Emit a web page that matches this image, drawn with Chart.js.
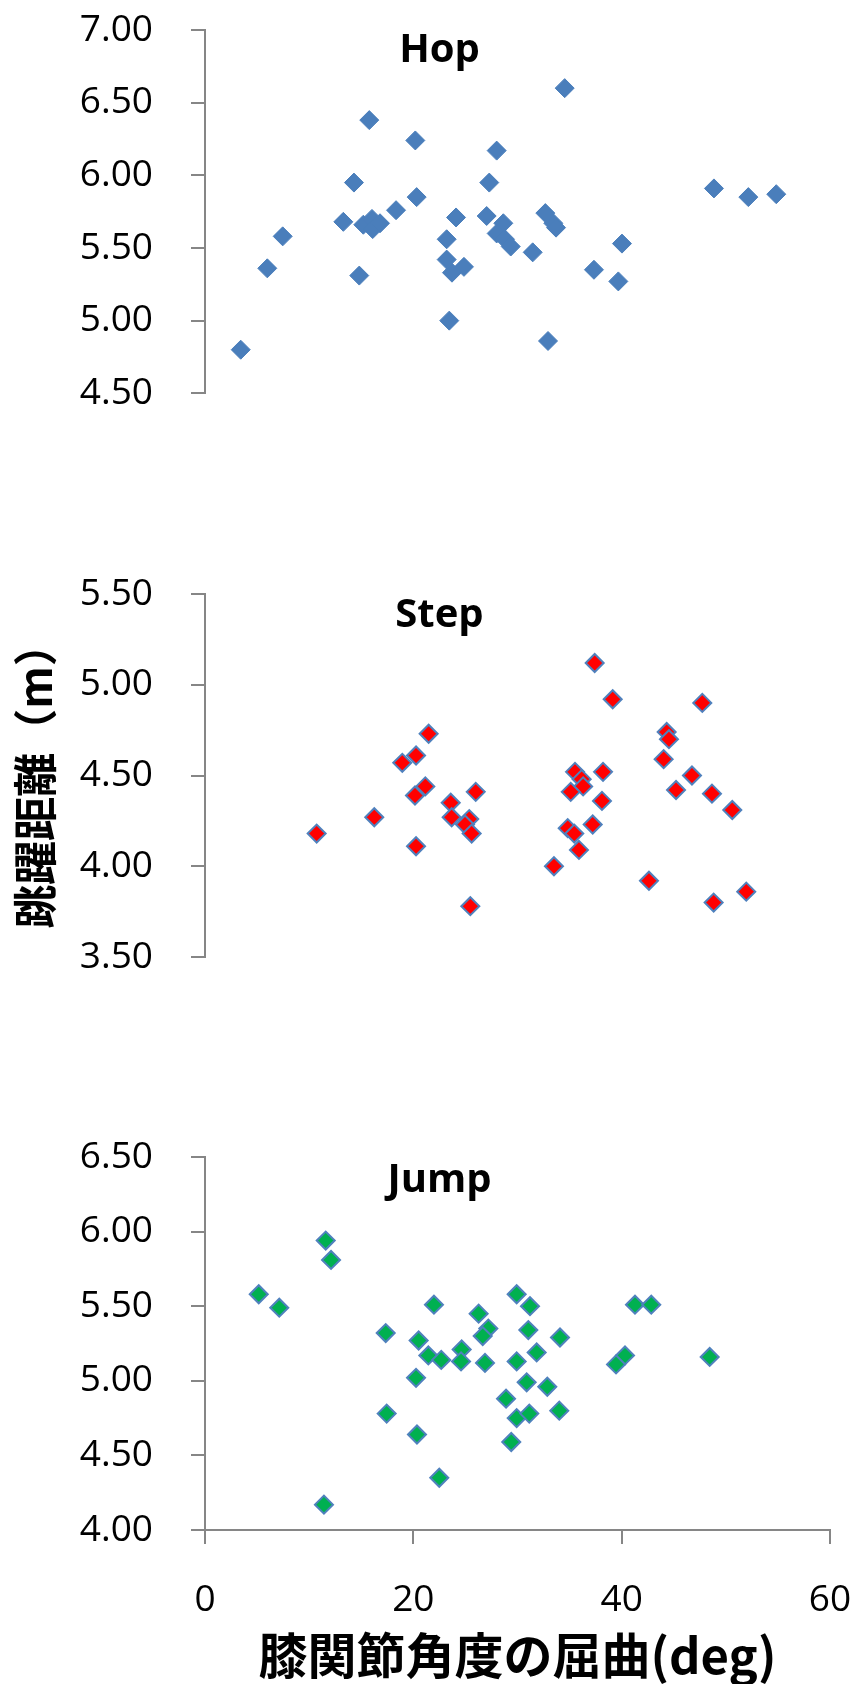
<!DOCTYPE html>
<html><head><meta charset="utf-8">
<script src="https://cdn.jsdelivr.net/npm/chart.js@4.4.1/dist/chart.umd.min.js"></script>
<style>
html,body{margin:0;padding:0;background:#fff;overflow:hidden;width:859px;height:1684px;}
.panel{position:absolute;left:0;}
</style></head><body>
<div class="panel" style="top:0"><canvas id="hop" width="880" height="440"></canvas></div>
<div class="panel" style="top:560px"><canvas id="step" width="880" height="440"></canvas></div>
<div class="panel" style="top:1130px"><canvas id="jump" width="880" height="554"></canvas></div>
<script>
// ---- data ----
const panelTitles = ['Hop', 'Step', 'Jump'];
const yAxisTitle = '跳躍距離（m）';
const xAxisTitle = '膝関節角度の屈曲(deg)';
const xTicks = [0, 20, 40, 60];
const hopTicks = [4.5, 5.0, 5.5, 6.0, 6.5, 7.0];
const stepTicks = [3.5, 4.0, 4.5, 5.0, 5.5];
const jumpTicks = [4.0, 4.5, 5.0, 5.5, 6.0, 6.5];

const hopAngle = [3.43, 5.98, 7.46, 13.28, 14.30, 14.81, 15.20, 16.03, 16.10, 16.80, 15.77, 18.34, 20.19, 20.32, 23.20, 23.20, 23.71, 24.86, 23.45, 24.10, 27.04, 27.29, 28.00, 28.64, 28.00, 28.80, 29.35, 31.46, 34.53, 32.67, 33.44, 33.70, 32.93, 37.34, 39.68, 40.03, 48.86, 52.16, 54.84];
const hopDist  = [4.80, 5.36, 5.58, 5.68, 5.95, 5.31, 5.66, 5.70, 5.63, 5.67, 6.38, 5.76, 6.24, 5.85, 5.56, 5.42, 5.33, 5.37, 5.00, 5.71, 5.72, 5.95, 6.17, 5.67, 5.60, 5.56, 5.51, 5.47, 6.60, 5.74, 5.67, 5.64, 4.86, 5.35, 5.27, 5.53, 5.91, 5.85, 5.87];

const stepAngle = [10.72, 16.25, 21.47, 20.26, 18.94, 21.15, 20.16, 20.26, 23.59, 23.68, 25.37, 24.96, 25.60, 25.99, 25.47, 37.41, 39.14, 47.74, 44.32, 44.54, 44.03, 46.75, 45.22, 48.67, 50.62, 42.62, 48.83, 51.96, 35.52, 36.16, 36.30, 38.21, 35.11, 38.11, 34.82, 35.45, 37.22, 35.90, 33.50];
const stepDist  = [4.18, 4.27, 4.73, 4.61, 4.57, 4.44, 4.39, 4.11, 4.35, 4.27, 4.26, 4.23, 4.18, 4.41, 3.78, 5.12, 4.92, 4.90, 4.74, 4.70, 4.59, 4.50, 4.42, 4.40, 4.31, 3.92, 3.80, 3.86, 4.52, 4.48, 4.44, 4.52, 4.41, 4.36, 4.21, 4.18, 4.23, 4.09, 4.00];

const jumpAngle = [11.59, 12.10, 5.16, 7.13, 21.98, 17.35, 20.51, 21.44, 22.68, 24.64, 24.58, 26.27, 27.20, 26.66, 26.88, 20.26, 17.44, 20.35, 22.49, 11.42, 29.92, 31.20, 29.92, 28.90, 29.92, 29.40, 31.04, 30.88, 31.13, 34.08, 31.84, 32.86, 34.01, 41.28, 42.84, 40.32, 39.46, 48.45];
const jumpDist  = [5.94, 5.81, 5.58, 5.49, 5.51, 5.32, 5.27, 5.17, 5.14, 5.21, 5.13, 5.45, 5.35, 5.30, 5.12, 5.02, 4.78, 4.64, 4.35, 4.17, 5.58, 5.50, 5.13, 4.88, 4.75, 4.59, 5.34, 4.99, 4.78, 5.29, 5.19, 4.96, 4.80, 5.51, 5.51, 5.17, 5.11, 5.16];

// ---- styling ----
const AXIS = '#868686';
const TICKFONT = "'Open Sans', 'Noto Sans', sans-serif";
const CJK = "'Noto Sans CJK JP', 'Noto Sans CJK SC', sans-serif";

const panelTitlePlugin = {
  id: 'panelTitle',
  afterDraw(chart, args, opts) {
    const ctx = chart.ctx;
    ctx.save();
    ctx.font = "bold 40px 'Open Sans', 'Noto Sans', sans-serif";
    ctx.fillStyle = '#000';
    ctx.textAlign = 'center';
    ctx.textBaseline = 'alphabetic';
    ctx.fillText(opts.text, opts.x, opts.y);
    ctx.restore();
  }
};

function pts(xs, ys) { return xs.map((x, i) => ({x: x, y: ys[i]})); }

function yAxis(ticksArr, title) {
  return {
    type: 'linear',
    min: ticksArr[0], max: ticksArr[ticksArr.length - 1],
    afterBuildTicks: s => { s.ticks = ticksArr.map(v => ({value: v})); },
    afterFit: s => { s.width = 205; s.paddingTop = 0; s.paddingBottom = 0; },
    border: {display: true, color: AXIS, width: 2},
    grid: {drawOnChartArea: false, drawTicks: true, tickLength: 14, tickColor: AXIS, lineWidth: 2, color: AXIS},
    ticks: {padding: 38, color: '#000', font: {family: TICKFONT, size: 37}, callback: v => Number(v).toFixed(2)},
    title: title ? {display: true, text: title, color: '#000',
      font: {family: CJK, size: 44, weight: 'bold', lineHeight: 1}, padding: {top: 13, bottom: 0}} : {display: false}
  };
}

function makeChart(id, xs, ys, fill, border, bw, r, yTicks, opts) {
  const scales = {
    x: opts.xAxis || {type: 'linear', min: 0, max: 60, display: false},
    y: yAxis(yTicks, opts.yTitle)
  };
  return new Chart(document.getElementById(id), {
    type: 'scatter',
    data: {datasets: [{data: pts(xs, ys), pointStyle: 'rectRot', pointRadius: r,
      backgroundColor: fill, borderColor: border, borderWidth: bw}]},
    options: {
      responsive: false, animation: false, events: [],
      layout: {padding: opts.padding},
      scales: scales,
      plugins: {legend: {display: false}, tooltip: {enabled: false}, panelTitle: opts.title}
    },
    plugins: [panelTitlePlugin]
  });
}

makeChart('hop', hopAngle, hopDist, '#4A7EBB', '#4A7EBB', 1, 9.5, hopTicks, {
  padding: {top: 30, bottom: 46.7, left: 0, right: 50},
  title: {text: panelTitles[0], x: 439.5, y: 61.7}
});

makeChart('step', stepAngle, stepDist, '#FF0000', '#4F81BD', 2, 9, stepTicks, {
  padding: {top: 34, bottom: 43, left: 0, right: 50},
  yTitle: yAxisTitle,
  title: {text: panelTitles[1], x: 439.5, y: 66.7}
});

makeChart('jump', jumpAngle, jumpDist, '#00B050', '#4F81BD', 2, 9, jumpTicks, {
  padding: {top: 27, bottom: 0, left: 0, right: 50},
  title: {text: panelTitles[2], x: 439.5, y: 61.7},
  xAxis: {
    type: 'linear', min: 0, max: 60,
    afterBuildTicks: s => { s.ticks = xTicks.map(v => ({value: v})); },
    afterFit: s => { s.height = 154; s.paddingLeft = 0; s.paddingRight = 0; },
    border: {display: true, color: AXIS, width: 2},
    grid: {drawOnChartArea: false, drawTicks: true, tickLength: 14, tickColor: AXIS, lineWidth: 2, color: AXIS},
    ticks: {padding: 34, color: '#000', maxRotation: 0, font: {family: TICKFONT, size: 37}, callback: v => String(v)},
    title: {display: true, text: xAxisTitle, color: '#000',
      font: {family: CJK, size: 49, weight: 'bold', lineHeight: 1}, padding: {top: 0, bottom: 4}}
  }
});
</script>
</body></html>
